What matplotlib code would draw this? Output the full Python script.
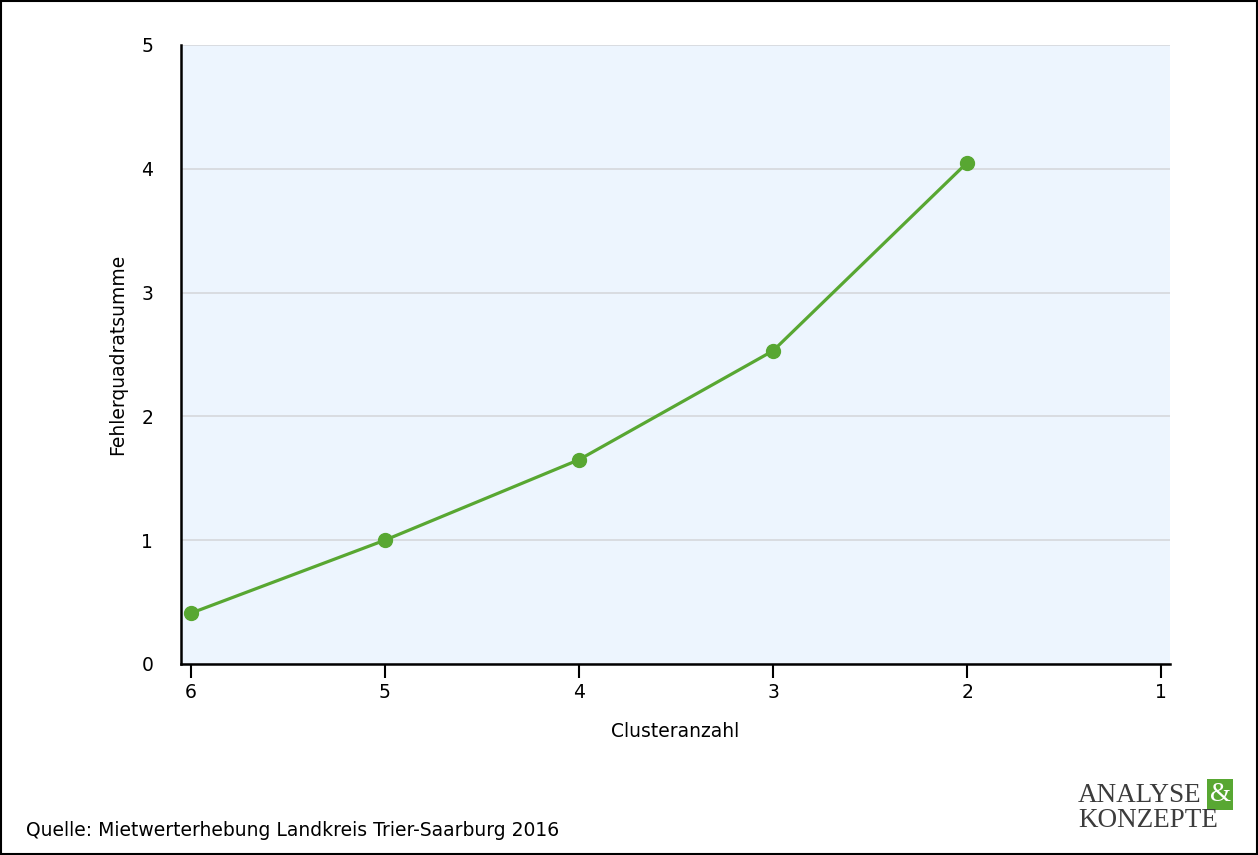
import matplotlib.pyplot as plt
from matplotlib.patches import Rectangle

cluster_count = [6, 5, 4, 3, 2]
error_sum = [0.41, 1.0, 1.65, 2.53, 4.05]
x_ticks = [6, 5, 4, 3, 2, 1]
y_ticks = [0, 1, 2, 3, 4, 5]

green = '#58a732'

fig = plt.figure(figsize=(12.58, 8.55), dpi=100)
ax = fig.add_axes([0.1439, 0.2234, 0.7862, 0.7240])
ax.set_facecolor('#edf5fe')

ax.plot(cluster_count, error_sum, color=green, lw=2.3, marker='o',
        markersize=10, zorder=3)

ax.set_xlim(6.05, 0.955)
ax.set_ylim(0, 5)
ax.set_xticks(x_ticks)
ax.set_yticks(y_ticks)
ax.tick_params(axis='x', direction='out', length=10, width=1.5, labelsize=13.5, pad=4)
ax.tick_params(axis='y', length=0, labelsize=13.5, pad=20)
ax.grid(axis='y', color='#d6d8dc', lw=1.2)
ax.set_axisbelow(True)
for s in ['top', 'right']:
    ax.spines[s].set_visible(False)
for s in ['left', 'bottom']:
    ax.spines[s].set_linewidth(1.8)
    ax.spines[s].set_color('black')

ax.set_xlabel('Clusteranzahl', fontsize=13.5, labelpad=14)
ax.set_ylabel('Fehlerquadratsumme', fontsize=13.5, labelpad=10)

# outer frame
fig.patches.append(Rectangle((0.0008, 0.001), 0.9984, 0.9975, transform=fig.transFigure,
                             fill=False, edgecolor='black', lw=1.5))

fig.text(0.021, 0.029, 'Quelle: Mietwerterhebung Landkreis Trier-Saarburg 2016',
         fontsize=13.5, ha='left', va='center')

# logo
fig.text(0.857, 0.070, 'ANALYSE', family='Liberation Serif', fontsize=19.5,
         color='#3c3c3c', ha='left', va='center')
fig.text(0.970, 0.071, '&', family='Liberation Serif', fontsize=19.5, color='white',
         ha='center', va='center',
         bbox=dict(boxstyle='square,pad=0.1', fc='#58a732', ec='none'))
fig.text(0.857, 0.040, 'KONZEPTE', family='Liberation Serif', fontsize=19.5,
         color='#3c3c3c', ha='left', va='center')

fig.savefig('out.png', dpi=100)
